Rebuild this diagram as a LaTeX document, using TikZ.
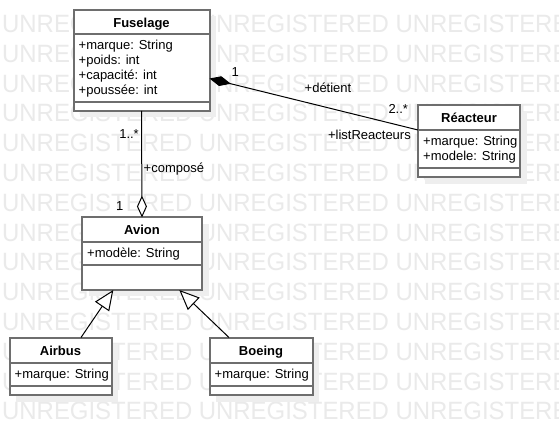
\documentclass[tikz,border=0pt]{standalone}
\usepackage{fontspec}
\setmainfont{Liberation Sans}
\newfontfamily\wmfont[FakeStretch=0.957]{Liberation Sans}
\usetikzlibrary{arrows.meta,shadows}
\definecolor{wm}{RGB}{234,234,234}
\definecolor{shc}{RGB}{238,238,238}
\definecolor{bc}{RGB}{110,110,110}
\tikzset{
 classbox/.style={draw=bc, line width=2pt, fill=white, inner sep=0pt, outer sep=0pt, anchor=north west,
   drop shadow={shadow xshift=6.5pt, shadow yshift=-6.5pt, fill=shc, opacity=1}},
 divider/.style={draw=bc, line width=2pt},
 titletext/.style={font=\fontsize{13}{15}\selectfont\bfseries, inner sep=0pt, anchor=base},
 attr/.style={font=\fontsize{13}{15}\selectfont, inner sep=0pt, anchor=base west},
 lbl/.style={font=\fontsize{13}{15}\selectfont, inner sep=0pt},
 conn/.style={draw=black, line width=1pt},
 wmtext/.style={font=\wmfont\fontsize{25}{25}\selectfont, text=wm, inner sep=0pt, anchor=base west},
}
\begin{document}
\begin{tikzpicture}[x=1pt,y=-1pt]
\useasboundingbox (0,0) rectangle (559,435);
\fill[white] (0,0) rectangle (559,435);
\foreach \k in {0,...,13} {
  \node[wmtext] (wm\k) at (2, 32.5+29.8*\k) {UNREGISTERED UNREGISTERED UNREGISTERED};
}
% boxes
\node[classbox, minimum width=136pt, minimum height=101pt] (fus) at (73.5,10) {};
\node[classbox, minimum width=102pt, minimum height=72pt] (rea) at (418,105.5) {};
\node[classbox, minimum width=120pt, minimum height=72.5pt] (avi) at (82,217.5) {};
\node[classbox, minimum width=102pt, minimum height=57.5pt] (air) at (9.5,337.5) {};
\node[classbox, minimum width=103pt, minimum height=57.5pt] (boe) at (209.5,337.5) {};
% dividers
\draw[divider] ([yshift=-24.5pt]fus.north west) -- ([yshift=-24.5pt]fus.north east);
\draw[divider] ([yshift=-92.5pt]fus.north west) -- ([yshift=-92.5pt]fus.north east);
\draw[divider] ([yshift=-25pt]rea.north west) -- ([yshift=-25pt]rea.north east);
\draw[divider] ([yshift=-63pt]rea.north west) -- ([yshift=-63pt]rea.north east);
\foreach \b in {avi,air,boe} {
  \draw[divider] ([yshift=-25pt]\b.north west) -- ([yshift=-25pt]\b.north east);
  \draw[divider] ([yshift=-48pt]\b.north west) -- ([yshift=-48pt]\b.north east);
}
% texts
\node[titletext] (fusT) at ([yshift=-17.5pt]fus.north) {Fuselage};
\node[attr] (fusA1) at ([xshift=5pt,yshift=-40pt]fus.north west) {+marque: String};
\node[attr] (fusA2) at ([xshift=5pt,yshift=-55pt]fus.north west) {+poids: int};
\node[attr] (fusA3) at ([xshift=5pt,yshift=-70pt]fus.north west) {+capacité: int};
\node[attr] (fusA4) at ([xshift=5pt,yshift=-85pt]fus.north west) {+poussée: int};
\node[titletext] (reaT) at ([yshift=-17.5pt]rea.north) {Réacteur};
\node[attr] (reaA1) at ([xshift=5pt,yshift=-40.5pt]rea.north west) {+marque: String};
\node[attr] (reaA2) at ([xshift=5pt,yshift=-55.5pt]rea.north west) {+modele: String};
\node[titletext] (aviT) at ([yshift=-17.5pt]avi.north) {Avion};
\node[attr] (aviA1) at ([xshift=5pt,yshift=-40.5pt]avi.north west) {+modèle: String};
\node[titletext] (airT) at ([yshift=-17.5pt]air.north) {Airbus};
\node[attr] (airA1) at ([xshift=5pt,yshift=-40.5pt]air.north west) {+marque: String};
\node[titletext] (boeT) at ([yshift=-17.5pt]boe.north) {Boeing};
\node[attr] (boeA1) at ([xshift=5pt,yshift=-40.5pt]boe.north west) {+marque: String};
% connectors
\draw[conn, {Diamond[length=22pt,width=10pt]}-] ([yshift=-68.5pt]fus.north east) -- ([yshift=-24.5pt]rea.north west);
\draw[conn, -{Diamond[fill=white,length=22pt,width=10pt]}] (fus.south) -- (avi.north);
\draw[conn, -{Triangle[fill=white,length=20pt,width=17pt]}] ([xshift=20.5pt]air.north) -- ([xshift=31.3pt]avi.south west);
\draw[conn, -{Triangle[fill=white,length=20pt,width=17pt]}] ([xshift=-32pt]boe.north) -- ([xshift=-22.7pt]avi.south east);
% labels
\node[lbl, anchor=base east] (m1) at ([xshift=-2.5pt,yshift=-27.6pt]fus.south) {1..*};
\node[lbl, anchor=base west] (rc) at ([xshift=2pt,yshift=-61.5pt]fus.south) {+composé};
\node[lbl, anchor=base east] (m2) at ([xshift=-18.5pt,yshift=7pt]avi.north) {1};
\node[lbl, anchor=base west] (m3) at ([xshift=22pt,yshift=-66.3pt]fus.north east) {1};
\node[lbl, anchor=base] (rd) at (328,92.5) {+détient};
\node[lbl, anchor=base west] (m4) at (388.3,113.5) {2..*};
\node[lbl, anchor=base east] (rl) at (411,140) {+listReacteurs};
\end{tikzpicture}
\end{document}
